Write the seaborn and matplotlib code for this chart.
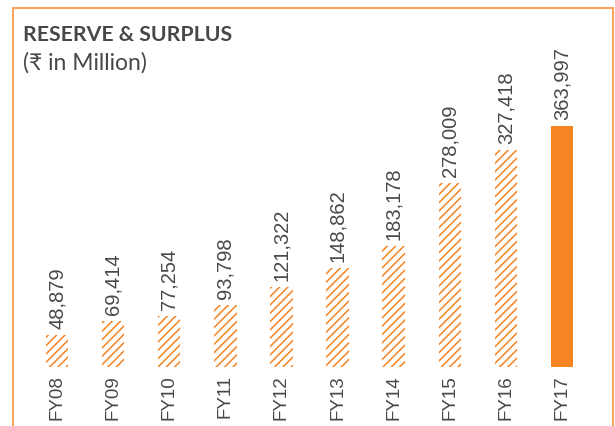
import matplotlib
matplotlib.use("Agg")
import matplotlib.pyplot as plt
import seaborn as sns
import pandas as pd
from matplotlib.patches import Rectangle

years = ["FY08", "FY09", "FY10", "FY11", "FY12", "FY13", "FY14", "FY15", "FY16", "FY17"]
values = [48879, 69414, 77254, 93798, 121322, 148862, 183178, 278009, 327418, 363997]
labels = ["48,879", "69,414", "77,254", "93,798", "121,322", "148,862", "183,178", "278,009", "327,418", "363,997"]

ORANGE = "#F58423"
BORDER = "#F8A65E"
TEXT = "#484848"

sns.set_theme(style="white")
plt.rcParams["hatch.linewidth"] = 1.1
plt.rcParams["hatch.color"] = ORANGE

fig = plt.figure(figsize=(6.15, 4.27), dpi=100)
W, H = 615, 427
ax = fig.add_axes([29 / W, (H - 368) / H, 561 / W, (368 - 50) / H])

df = pd.DataFrame({"year": years, "value": values})
sns.barplot(data=df, x="year", y="value", ax=ax, width=0.4, color=ORANGE, saturation=1)

for i, p in enumerate(ax.patches):
    if i < len(years) - 1:
        p.set_facecolor("white")
        p.set_edgecolor(ORANGE)
        p.set_hatch("////")
        p.set_linewidth(0)
    else:
        p.set_facecolor(ORANGE)
        p.set_edgecolor(ORANGE)
        p.set_linewidth(0)

for i, (v, lab) in enumerate(zip(values, labels)):
    ax.annotate(lab, xy=(i, v), xytext=(0, 5), textcoords="offset points",
                rotation=90, ha="center", va="bottom", fontsize=14.5,
                color=TEXT, family=["Liberation Sans", "DejaVu Sans"])

ymax = 363997 * (368 - 50) / 241
ax.set_ylim(0, ymax)
ax.set_xlim(-0.5, 9.5)
ax.set_xlabel("")
ax.set_ylabel("")
ax.set_yticks([])
ax.tick_params(axis="x", length=0, pad=5)
for t in ax.get_xticklabels():
    t.set_rotation(90)
    t.set_fontsize(13.5)
    t.set_color(TEXT)
    t.set_family(["Liberation Sans", "DejaVu Sans"])
for s in ax.spines.values():
    s.set_visible(False)
ax.patch.set_alpha(0)

fig.patches.append(Rectangle((13 / W, -0.2), (613 - 13) / W, 1.2 - 9 / H,
                             transform=fig.transFigure, fill=False,
                             edgecolor=BORDER, linewidth=1.5, zorder=0))

fig.text(23 / W, 1 - 25 / H, "RESERVE & SURPLUS", fontsize=15.3, fontweight="bold",
         color=TEXT, ha="left", va="top", family=["Lato", "DejaVu Sans"])
fig.text(23 / W, 1 - 52 / H, "(₹ in Million)", fontsize=16.5,
         color=TEXT, ha="left", va="top", family=["Lato", "DejaVu Sans"])

fig.savefig("out.png", dpi=100)
